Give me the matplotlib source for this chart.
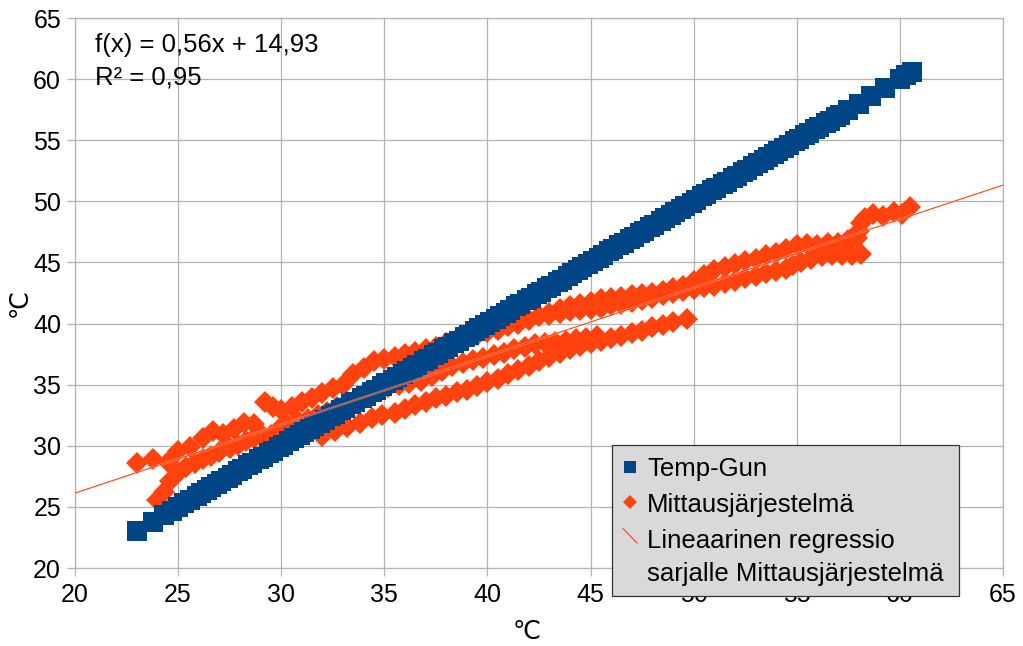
import matplotlib
matplotlib.use("Agg")
import matplotlib.pyplot as plt
from matplotlib.lines import Line2D
from matplotlib.patches import Rectangle
import matplotlib.patheffects as pe

plt.rcParams['font.family'] = ['Liberation Sans', 'DejaVu Sans']

# ---------------- data ----------------
# Temp-Gun series (reading plotted against itself)
temp_gun = [23.0, 23.8, 24.3, 24.7, 25.0, 25.3, 25.6, 25.9, 26.1, 26.4, 26.6, 26.9,
            27.1, 27.4, 27.6, 27.9, 28.1, 28.4, 28.6, 28.9, 29.1, 29.4, 29.6, 29.9,
            30.1, 30.4, 30.6, 30.9, 31.1, 31.4, 31.6, 31.9, 32.1, 32.4, 32.6, 32.9,
            33.1, 33.4, 33.6, 33.9, 34.1, 34.4, 34.6, 34.9, 35.1, 35.4, 35.6, 35.9,
            36.1, 36.4, 36.6, 36.9, 37.1, 37.4, 37.6, 37.9, 38.1, 38.4, 38.6, 38.9,
            39.1, 39.4, 39.6, 39.9, 40.1, 40.4, 40.6, 40.9, 41.1, 41.4, 41.6, 41.9,
            42.1, 42.4, 42.6, 42.9, 43.1, 43.4, 43.6, 43.9, 44.1, 44.4, 44.6, 44.9,
            45.1, 45.4, 45.6, 45.9, 46.1, 46.4, 46.6, 46.9, 47.1, 47.4, 47.6, 47.9,
            48.1, 48.4, 48.6, 48.9, 49.1, 49.4, 49.6, 49.9, 50.1, 50.4, 50.6, 50.9,
            51.1, 51.4, 51.6, 51.9, 52.1, 52.4, 52.6, 52.9, 53.1, 53.4, 53.6, 53.9,
            54.1, 54.4, 54.6, 54.9, 55.1, 55.4, 55.6, 55.9, 56.1, 56.4, 56.6, 56.9,
            57.1, 57.5, 58.0, 58.6, 59.3, 60.0, 60.3, 60.6]

# Mittausjärjestelmä series, x = Temp-Gun reading, y = system reading
# upper trace
mitt_a_x = [23.0, 23.8, 24.5, 25.0, 25.6, 26.2, 26.7, 27.2, 27.7, 28.2, 28.7, 29.2,
            29.6, 30.0, 30.5, 31.0, 31.5, 32.0, 32.5, 33.0, 33.5, 34.0, 34.5, 35.0,
            35.5, 36.0, 36.5, 37.0, 37.5, 38.0, 38.5, 39.0, 39.5, 40.0, 40.5, 41.0,
            41.5, 42.0, 42.5, 43.0, 43.5, 44.0, 44.5, 45.0, 45.5, 46.0, 46.5, 47.0,
            47.5, 48.0, 48.5, 49.0, 49.5, 50.0, 50.5, 51.0, 51.5, 52.0, 52.5, 53.0,
            53.5, 54.0, 54.5, 55.0, 55.5, 56.0, 56.5, 57.0, 57.5, 57.9, 58.0, 58.1,
            58.3, 58.7, 59.2, 59.7, 60.1, 60.5]
mitt_a_y = [28.6, 28.9, 28.7, 29.6, 29.9, 30.6, 31.2, 31.0, 31.4, 31.9, 31.8, 33.6,
            33.2, 32.9, 33.2, 33.6, 33.9, 34.3, 34.7, 35.0, 35.9, 36.4, 36.9, 37.1,
            37.3, 37.5, 37.7, 37.9, 38.1, 38.4, 38.7, 38.9, 39.1, 39.3, 39.5, 39.8,
            40.0, 40.3, 40.6, 40.9, 41.2, 41.4, 41.6, 41.8, 42.0, 42.1, 42.2, 42.3,
            42.4, 42.5, 42.7, 42.9, 43.1, 43.5, 44.0, 44.4, 44.6, 44.9, 45.1, 45.3,
            45.6, 45.8, 46.1, 46.4, 46.5, 46.4, 46.6, 46.6, 46.8, 47.0, 47.6, 48.2,
            48.6, 49.0, 48.8, 49.1, 49.0, 49.5]
# steep trace from the low end, continuing below the Temp-Gun band
mitt_b_x = [24.0, 24.3, 24.6, 25.0, 25.4, 25.8, 26.2, 26.6, 27.0, 27.5, 27.9, 28.3,
            28.7, 29.1, 29.5, 29.9, 30.3, 30.8, 31.3, 31.8, 32.2, 32.7, 33.2, 33.7,
            34.2, 34.7, 35.2, 35.7, 36.2, 36.8, 37.3, 37.8, 38.3, 38.8, 39.3, 39.8,
            40.3, 40.8, 41.3, 41.8, 42.3, 42.8, 43.3, 43.8, 44.3, 44.8, 45.3]
mitt_b_y = [25.6, 26.2, 27.1, 27.8, 28.3, 28.6, 28.9, 29.2, 29.5, 29.8, 30.1, 30.4,
            30.6, 30.8, 30.9, 31.4, 31.8, 32.0, 32.2, 32.5, 32.8, 33.2, 33.6, 34.0,
            34.3, 34.6, 34.8, 35.0, 35.1, 35.3, 35.7, 36.1, 36.5, 36.8, 37.0, 37.2,
            37.4, 37.6, 37.9, 38.1, 38.3, 38.4, 38.5, 38.6, 38.7, 38.8, 39.0]
# lowest trace
mitt_c_x = [32.0, 32.6, 33.2, 33.8, 34.4, 34.9, 35.5, 36.0, 36.5, 37.0, 37.5, 38.0,
            38.5, 39.0, 39.5, 40.0, 40.5, 41.0, 41.5, 42.0, 42.5, 43.0, 43.5, 44.0,
            44.5, 45.0, 45.5, 46.0, 46.5, 47.0, 47.5, 48.0, 48.5, 49.0, 49.7]
mitt_c_y = [30.8, 31.2, 31.5, 31.9, 32.3, 32.5, 32.7, 33.0, 33.3, 33.6, 33.9, 34.1,
            34.4, 34.6, 34.9, 35.2, 35.5, 35.9, 36.2, 36.5, 36.9, 37.3, 37.6, 37.9,
            38.2, 38.4, 38.6, 38.8, 39.0, 39.2, 39.4, 39.7, 39.9, 40.1, 40.4]
# trace just under the upper one at the hot end
mitt_d_x = [43.0, 43.5, 44.0, 44.5, 45.0, 45.5, 46.0, 46.5, 47.0, 47.5, 48.0, 48.5,
            49.0, 49.5, 50.0, 50.5, 51.0, 51.5, 52.0, 52.5, 53.0, 53.5, 54.0, 54.5,
            54.8, 55.2, 55.7, 56.2, 56.7, 57.2, 57.7, 58.1]
mitt_d_y = [40.7, 40.9, 41.0, 41.1, 41.2, 41.3, 41.5, 41.6, 41.8, 41.9, 42.1, 42.3,
            42.5, 42.7, 42.8, 43.0, 43.1, 43.3, 43.5, 43.7, 43.9, 44.1, 44.3, 44.5,
            44.8, 45.0, 45.3, 45.5, 45.6, 45.6, 45.6, 45.7]

mitt_x = mitt_a_x + mitt_b_x + mitt_c_x + mitt_d_x
mitt_y = mitt_a_y + mitt_b_y + mitt_c_y + mitt_d_y

# linear regression for Mittausjärjestelmä
reg_slope = 0.56
reg_intercept = 14.93
reg_r2 = 0.95

axis_min, axis_max = 20, 65
ticks = [20, 25, 30, 35, 40, 45, 50, 55, 60, 65]
tick_labels = [str(t) for t in ticks]

legend_lines = ["Temp-Gun", "Mittausjärjestelmä",
                "Lineaarinen regressio", "sarjalle Mittausjärjestelmä"]
blue = "#004586"
orange = "#ff420e"
grid_c = "#b3b3b3"

# ---------------- figure ----------------
W, H = 1023, 646
fig = plt.figure(figsize=(W / 100, H / 100), dpi=100)
ax = fig.add_axes([75 / W, 78 / H, 928 / W, 550 / H])


def fx(px):
    return px / W


def fy(py):
    return 1 - py / H


ax.plot(mitt_x, mitt_y, ls="none", marker="D", ms=11.0, mew=0, color=orange, zorder=2)
ax.plot(temp_gun, temp_gun, ls="none", marker="s", ms=13.8, mew=0, color=blue, zorder=3)
ax.axline((0, reg_intercept), slope=reg_slope, color=orange, lw=0.8, zorder=4,
          path_effects=[pe.Stroke(linewidth=1.8, foreground="white", alpha=0.35), pe.Normal()])

ax.set_xlim(axis_min, axis_max)
ax.set_ylim(axis_min, axis_max)
ax.set_xticks(ticks)
ax.set_xticklabels(tick_labels)
ax.set_yticks(ticks)
ax.set_yticklabels(tick_labels)
ax.grid(True, color=grid_c, lw=0.9, zorder=0)
ax.set_axisbelow(True)
for s in ax.spines.values():
    s.set_color(grid_c)
    s.set_linewidth(0.9)
ax.tick_params(axis="both", which="major", labelsize=18, color=grid_c, width=0.9,
               length=6, direction="out")
ax.tick_params(axis="x", pad=5)
ax.tick_params(axis="y", pad=4)

fig.text(fx(527), fy(632), "℃", fontsize=18, ha="center", va="center")
fig.text(fx(20), fy(303), "℃", fontsize=18, ha="center", va="center", rotation=90)

eq = "f(x) = " + f"{reg_slope:.2f}".replace(".", ",") + "x + " + f"{reg_intercept:.2f}".replace(".", ",")
r2 = "R² = " + f"{reg_r2:.2f}".replace(".", ",")
fig.text(fx(95), fy(45), eq, fontsize=18.5, ha="left", va="center", zorder=6)
fig.text(fx(95), fy(77), r2, fontsize=18.5, ha="left", va="center", zorder=6)

# ---------------- legend (drawn by hand to match the layout) ----------------
fig.add_artist(Rectangle((fx(611.5), fy(595.5)), fx(958.5) - fx(611.5), fy(444.5) - fy(595.5),
                         transform=fig.transFigure, facecolor="#d9d9d9",
                         edgecolor="#333333", lw=0.9, zorder=10))
fig.add_artist(Line2D([fx(629.5)], [fy(466.5)], ls="none", marker="s", ms=9.3, mew=0,
                      color=blue, transform=fig.transFigure, zorder=11))
fig.add_artist(Line2D([fx(630)], [fy(502)], ls="none", marker="D", ms=6.8, mew=0,
                      color=orange, transform=fig.transFigure, zorder=11))
fig.add_artist(Line2D([fx(623), fx(637)], [fy(528.5), fy(543)], color=orange, lw=0.8,
                      transform=fig.transFigure, zorder=11))
baselines = [476, 512, 548, 581]
for label, by in zip(legend_lines, baselines):
    fig.text(fx(647), fy(by), label, fontsize=18.5, ha="left", va="baseline", zorder=12)

fig.savefig("out.png", dpi=100)
